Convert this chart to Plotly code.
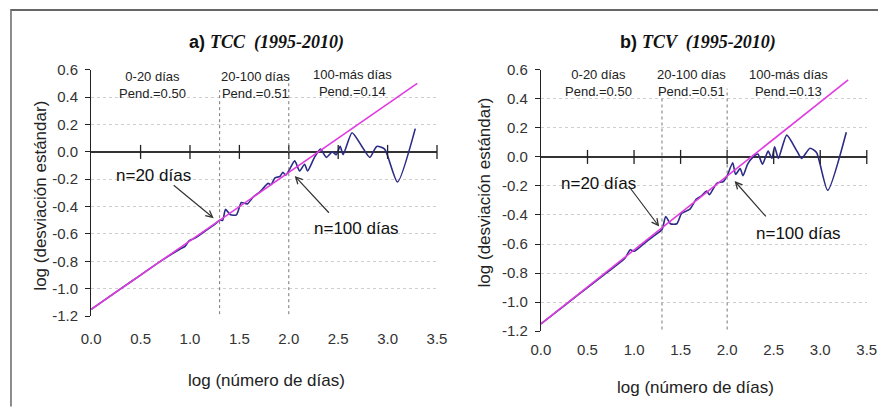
import plotly.graph_objects as go

# ---------------- data ----------------
# a) TCC (1995-2010)
x_tcc = [0.0, 0.3, 0.5, 0.7, 0.9, 0.95, 0.99, 1.05, 1.15, 1.25, 1.3, 1.33, 1.36, 1.41, 1.47, 1.52,
         1.58, 1.64, 1.71, 1.76, 1.79, 1.82, 1.86, 1.91, 1.94, 1.97, 2.01, 2.06, 2.11, 2.16, 2.19,
         2.26, 2.32, 2.38, 2.44, 2.48, 2.52, 2.55, 2.64, 2.74, 2.82, 2.89, 2.97, 3.1, 3.28]
y_tcc = [-1.15, -1.0, -0.9, -0.8, -0.71, -0.69, -0.65, -0.63, -0.58, -0.53, -0.5, -0.5, -0.42, -0.46,
         -0.46, -0.37, -0.38, -0.33, -0.29, -0.25, -0.23, -0.24, -0.19, -0.18, -0.15, -0.17, -0.125,
         -0.066, -0.14, -0.09, -0.14, -0.04, 0.02, -0.04, 0.0, -0.02, 0.04, -0.02, 0.14, 0.04, -0.04,
         0.04, 0.02, -0.22, 0.17]
# b) TCV (1995-2010)
x_tcv = [0.0, 0.3, 0.5, 0.7, 0.9, 0.96, 1.0, 1.1, 1.2, 1.3, 1.34, 1.39, 1.46, 1.51, 1.57, 1.6, 1.67,
         1.72, 1.78, 1.81, 1.89, 1.96, 2.0, 2.06, 2.09, 2.14, 2.17, 2.22, 2.28, 2.33, 2.38, 2.44, 2.48,
         2.51, 2.55, 2.64, 2.75, 2.8, 2.89, 2.96, 3.08, 3.28]
y_tcv = [-1.15, -1.0, -0.9, -0.8, -0.7, -0.64, -0.65, -0.6, -0.55, -0.5, -0.41, -0.46, -0.46, -0.39,
         -0.37, -0.36, -0.29, -0.27, -0.235, -0.26, -0.18, -0.17, -0.13, -0.04, -0.12, -0.08, -0.13,
         -0.05, 0.0, 0.02, -0.05, 0.04, -0.01, 0.07, -0.01, 0.15, 0.04, -0.01, 0.06, 0.03, -0.23, 0.17]
# fitted lines
fit_x = [0.0, 3.3]
fit_tcc = [-1.15, 0.5]
fit_tcv = [-1.15, 0.53]

x_ticks = [0.0, 0.5, 1.0, 1.5, 2.0, 2.5, 3.0, 3.5]
y_ticks = [-1.2, -1.0, -0.8, -0.6, -0.4, -0.2, 0.0, 0.2, 0.4, 0.6]
breaks = [1.3, 2.0]  # log(20), log(100)

titles = ["a) ", "b) "]
series_names = ["TCC  (1995-2010)", "TCV  (1995-2010)"]
seg_labels_a = ["0-20 días<br>Pend.=0.50", "20-100 días<br>Pend.=0.51", "100-más días<br>Pend.=0.14"]
seg_labels_b = ["0-20 días<br>Pend.=0.50", "20-100 días<br>Pend.=0.51", "100-más días<br>Pend.=0.13"]

# ---------------- figure ----------------
W, H = 888, 411
SX, SY, OFF = 888 / 908, 411 / 431, 10   # photographed page framing
FONT = "Liberation Sans"


def X(t):   # picture pixel x -> paper x
    return (t / SX - OFF) / W


def Y(t):   # picture pixel y -> paper y
    return 1 - (t / SY - OFF) / H


fig = go.Figure()

panels = [
    dict(x=x_tcc, y=y_tcc, fy=fit_tcc, xa="x", ya="y", xd=[X(91), X(437)], yd=[Y(315), Y(70)],
         labels=seg_labels_a, lab_xy=[(0.62, 0.49), (1.66, 0.49), (2.64, 0.5)],
         n20=(0.63, -0.17), a20=((0.82, -0.235), (1.24, -0.485)),
         n100=(2.69, -0.56), a100=((2.42, -0.456), (2.06, -0.176)),
         title_x=266, ytitle_x=40, ytitle_y=195, xtitle_x=266, xtitle_y=379, vtop=[0.45, 0.55], standoff=12),
    dict(x=x_tcv, y=y_tcv, fy=fit_tcv, xa="x2", ya="y2", xd=[X(541), X(867)], yd=[Y(330), Y(70)],
         labels=seg_labels_b, lab_xy=[(0.62, 0.51), (1.62, 0.51), (2.66, 0.51)],
         n20=(0.62, -0.18), a20=((0.93, -0.19), (1.27, -0.48)),
         n100=(2.77, -0.53), a100=((2.43, -0.42), (2.08, -0.166)),
         title_x=698, ytitle_x=484, ytitle_y=192, xtitle_x=696, xtitle_y=386, vtop=[0.42, 0.47], standoff=8),
]

layout = {}
shapes = []
annotations = []
for i, p in enumerate(panels):
    sfx = "" if i == 0 else "2"
    # data curve
    fig.add_trace(go.Scatter(x=p["x"], y=p["y"], mode="lines",
                             line=dict(color="#2b2b86", width=1.6, shape="spline", smoothing=0.6),
                             xaxis=p["xa"], yaxis=p["ya"], showlegend=False))
    # fitted line
    fig.add_trace(go.Scatter(x=fit_x, y=p["fy"], mode="lines",
                             line=dict(color="#e03ce0", width=1.6),
                             xaxis=p["xa"], yaxis=p["ya"], showlegend=False))
    # tick marks on zero axis
    fig.add_trace(go.Scatter(x=x_ticks[1:], y=[0]*(len(x_ticks)-1), mode="markers",
                             marker=dict(symbol="line-ns", size=10, line=dict(width=1.3, color="#222")),
                             xaxis=p["xa"], yaxis=p["ya"], showlegend=False, cliponaxis=False))
    layout["xaxis" + sfx] = dict(domain=p["xd"], range=[0, 3.5], tickvals=x_ticks,
                                 ticktext=[f"{v:.1f}" for v in x_ticks], showgrid=False,
                                 zeroline=False, showline=False, ticks="", anchor=p["ya"],
                                 tickfont=dict(family=FONT, size=15, color="#333"),
                                 ticklabelstandoff=p["standoff"])
    layout["yaxis" + sfx] = dict(domain=p["yd"], range=[-1.2, 0.6], tickvals=y_ticks,
                                 ticktext=[f"{v:.1f}" for v in y_ticks], showgrid=True,
                                 gridcolor="#cfcfcf", griddash="dot", gridwidth=1,
                                 zeroline=True, zerolinecolor="#333", zerolinewidth=1.6,
                                 showline=True, linecolor="#222", linewidth=1.2,
                                 ticks="outside", ticklen=5, tickcolor="#222", ticklabelstandoff=4,
                                 anchor=p["xa"], tickfont=dict(family=FONT, size=15, color="#333"))
    # vertical break lines
    for bx, top in zip(breaks, p["vtop"]):
        shapes.append(dict(type="line", xref=p["xa"], yref=p["ya"], x0=bx, x1=bx, y0=-1.23, y1=top,
                           line=dict(color="#777", width=1, dash="dot")))
    # segment labels
    for txt, (lx, ly) in zip(p["labels"], p["lab_xy"]):
        annotations.append(dict(x=lx, y=ly, xref=p["xa"], yref=p["ya"], text=txt, showarrow=False,
                                xanchor="center", yanchor="middle",
                                font=dict(family=FONT, size=13, color="#222"), align="center"))
    # n= labels
    annotations.append(dict(x=p["n20"][0], y=p["n20"][1], xref=p["xa"], yref=p["ya"], text="n=20 días",
                            xanchor="center", yanchor="middle",
                            showarrow=False, font=dict(family=FONT, size=17, color="#111")))
    annotations.append(dict(x=p["n100"][0], y=p["n100"][1], xref=p["xa"], yref=p["ya"], text="n=100 días",
                            xanchor="center", yanchor="middle",
                            showarrow=False, font=dict(family=FONT, size=17, color="#111")))
    for (tail, head) in (p["a20"], p["a100"]):
        annotations.append(dict(x=head[0], y=head[1], ax=tail[0], ay=tail[1], xref=p["xa"], yref=p["ya"],
                                axref=p["xa"], ayref=p["ya"], text="", showarrow=True, arrowhead=5,
                                arrowsize=1.1, arrowwidth=1.2, arrowcolor="#333"))
    # panel title
    annotations.append(dict(x=X(p["title_x"]), y=Y(43), xref="paper", yref="paper", showarrow=False,
                            xanchor="center", yanchor="middle",
                            text=f"<b>{titles[i]}</b><span style='font-family:Liberation Serif'><b><i>{series_names[i]}</i></b></span>",
                            font=dict(family=FONT, size=18, color="#111")))
    # axis titles
    annotations.append(dict(x=X(p["ytitle_x"]), y=Y(p["ytitle_y"]), xref="paper", yref="paper",
                            xanchor="center", yanchor="middle",
                            showarrow=False, textangle=-90, text="log (desviación estándar)",
                            font=dict(family=FONT, size=17, color="#222")))
    annotations.append(dict(x=X(p["xtitle_x"]), y=Y(p["xtitle_y"]), xref="paper", yref="paper",
                            xanchor="center", yanchor="middle",
                            showarrow=False, text="log (número de días)",
                            font=dict(family=FONT, size=17, color="#222")))

# outer frame
shapes.append(dict(type="line", xref="paper", yref="paper", x0=1/W, x1=1/W, y0=Y(405), y1=1,
                   line=dict(color="#666", width=1.5)))
shapes.append(dict(type="line", xref="paper", yref="paper", x0=1/W, x1=1, y0=1-1/H, y1=1-1/H,
                   line=dict(color="#666", width=2)))

fig.update_layout(width=W, height=H, margin=dict(l=0, r=0, t=0, b=0),
                  paper_bgcolor="white", plot_bgcolor="white",
                  shapes=shapes, annotations=annotations, showlegend=False, **layout)
fig.write_html("out.html", config={"displayModeBar": False},
               post_script="document.body.style.margin='0';document.body.style.overflow='hidden';")
